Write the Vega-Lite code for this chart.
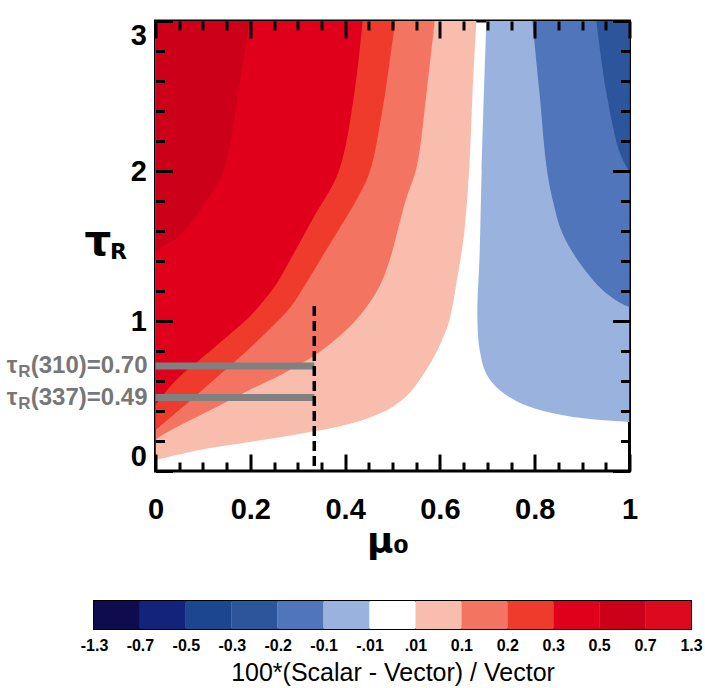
{
  "$schema": "https://vega.github.io/schema/vega-lite/v6.json",
  "padding": {"left": 5, "top": 18, "right": 0, "bottom": 0},
  "bounds": "flush",
  "center": true,
  "spacing": 130,
  "resolve": {"scale": {"x": "independent", "y": "independent"}},
  "config": {
    "view": {"stroke": "#000", "strokeWidth": 3},
    "axis": {"domain": false, "grid": false, "tickColor": "#000", "tickWidth": 3, "tickCap": "butt", "labelColor": "#000", "titleColor": "#000", "labelFont": "Liberation Sans", "labelFontWeight": "bold", "labelFontSize": 29, "labelFlush": false}
  },
  "datasets": {
    "bands": [
      {"level": "0.01 to 0.1", "tau": 0.073, "mu": 0},
      {"level": "0.01 to 0.1", "tau": 0.14, "mu": 0.093},
      {"level": "0.01 to 0.1", "tau": 0.193, "mu": 0.198},
      {"level": "0.01 to 0.1", "tau": 0.247, "mu": 0.304},
      {"level": "0.01 to 0.1", "tau": 0.313, "mu": 0.409},
      {"level": "0.01 to 0.1", "tau": 0.37, "mu": 0.463},
      {"level": "0.01 to 0.1", "tau": 0.427, "mu": 0.5},
      {"level": "0.01 to 0.1", "tau": 0.513, "mu": 0.534},
      {"level": "0.01 to 0.1", "tau": 0.673, "mu": 0.571},
      {"level": "0.01 to 0.1", "tau": 0.827, "mu": 0.598},
      {"level": "0.01 to 0.1", "tau": 0.993, "mu": 0.619},
      {"level": "0.01 to 0.1", "tau": 1.293, "mu": 0.637},
      {"level": "0.01 to 0.1", "tau": 1.58, "mu": 0.651},
      {"level": "0.01 to 0.1", "tau": 2.027, "mu": 0.662},
      {"level": "0.01 to 0.1", "tau": 2.527, "mu": 0.669},
      {"level": "0.01 to 0.1", "tau": 3.0, "mu": 0.677},

      {"level": "0.1 to 0.2", "tau": 0.207, "mu": 0},
      {"level": "0.1 to 0.2", "tau": 0.227, "mu": 0.008},
      {"level": "0.1 to 0.2", "tau": 0.313, "mu": 0.057},
      {"level": "0.1 to 0.2", "tau": 0.427, "mu": 0.129},
      {"level": "0.1 to 0.2", "tau": 0.54, "mu": 0.198},
      {"level": "0.1 to 0.2", "tau": 0.647, "mu": 0.268},
      {"level": "0.1 to 0.2", "tau": 0.78, "mu": 0.34},
      {"level": "0.1 to 0.2", "tau": 0.96, "mu": 0.409},
      {"level": "0.1 to 0.2", "tau": 1.093, "mu": 0.445},
      {"level": "0.1 to 0.2", "tau": 1.247, "mu": 0.475},
      {"level": "0.1 to 0.2", "tau": 1.427, "mu": 0.496},
      {"level": "0.1 to 0.2", "tau": 1.58, "mu": 0.509},
      {"level": "0.1 to 0.2", "tau": 1.807, "mu": 0.528},
      {"level": "0.1 to 0.2", "tau": 2.027, "mu": 0.551},
      {"level": "0.1 to 0.2", "tau": 2.527, "mu": 0.572},
      {"level": "0.1 to 0.2", "tau": 3.0, "mu": 0.589},

      {"level": "0.2 to 0.3", "tau": 0.273, "mu": 0},
      {"level": "0.2 to 0.3", "tau": 0.34, "mu": 0.025},
      {"level": "0.2 to 0.3", "tau": 0.46, "mu": 0.07},
      {"level": "0.2 to 0.3", "tau": 0.627, "mu": 0.13},
      {"level": "0.2 to 0.3", "tau": 0.793, "mu": 0.19},
      {"level": "0.2 to 0.3", "tau": 0.96, "mu": 0.245},
      {"level": "0.2 to 0.3", "tau": 1.093, "mu": 0.285},
      {"level": "0.2 to 0.3", "tau": 1.273, "mu": 0.322},
      {"level": "0.2 to 0.3", "tau": 1.447, "mu": 0.355},
      {"level": "0.2 to 0.3", "tau": 1.627, "mu": 0.39},
      {"level": "0.2 to 0.3", "tau": 1.807, "mu": 0.424},
      {"level": "0.2 to 0.3", "tau": 1.993, "mu": 0.452},
      {"level": "0.2 to 0.3", "tau": 2.393, "mu": 0.478},
      {"level": "0.2 to 0.3", "tau": 2.727, "mu": 0.494},
      {"level": "0.2 to 0.3", "tau": 3.0, "mu": 0.506},

      {"level": "0.3 to 0.5", "tau": 0.44, "mu": 0},
      {"level": "0.3 to 0.5", "tau": 0.473, "mu": 0.008},
      {"level": "0.3 to 0.5", "tau": 0.56, "mu": 0.03},
      {"level": "0.3 to 0.5", "tau": 0.647, "mu": 0.057},
      {"level": "0.3 to 0.5", "tau": 0.74, "mu": 0.093},
      {"level": "0.3 to 0.5", "tau": 0.893, "mu": 0.15},
      {"level": "0.3 to 0.5", "tau": 1.027, "mu": 0.198},
      {"level": "0.3 to 0.5", "tau": 1.093, "mu": 0.217},
      {"level": "0.3 to 0.5", "tau": 1.247, "mu": 0.255},
      {"level": "0.3 to 0.5", "tau": 1.447, "mu": 0.291},
      {"level": "0.3 to 0.5", "tau": 1.693, "mu": 0.334},
      {"level": "0.3 to 0.5", "tau": 1.993, "mu": 0.386},
      {"level": "0.3 to 0.5", "tau": 2.527, "mu": 0.42},
      {"level": "0.3 to 0.5", "tau": 3.0, "mu": 0.437},

      {"level": "0.5 to 0.7", "tau": 1.46, "mu": 0},
      {"level": "0.5 to 0.7", "tau": 1.493, "mu": 0.015},
      {"level": "0.5 to 0.7", "tau": 1.58, "mu": 0.055},
      {"level": "0.5 to 0.7", "tau": 1.807, "mu": 0.108},
      {"level": "0.5 to 0.7", "tau": 1.993, "mu": 0.143},
      {"level": "0.5 to 0.7", "tau": 2.527, "mu": 0.175},
      {"level": "0.5 to 0.7", "tau": 3.0, "mu": 0.198},

      {"level": "-0.1 to -0.01", "tau": 0.327, "mu": 1.0},
      {"level": "-0.1 to -0.01", "tau": 0.347, "mu": 0.916},
      {"level": "-0.1 to -0.01", "tau": 0.38, "mu": 0.846},
      {"level": "-0.1 to -0.01", "tau": 0.447, "mu": 0.774},
      {"level": "-0.1 to -0.01", "tau": 0.54, "mu": 0.726},
      {"level": "-0.1 to -0.01", "tau": 0.647, "mu": 0.698},
      {"level": "-0.1 to -0.01", "tau": 0.807, "mu": 0.684},
      {"level": "-0.1 to -0.01", "tau": 1.027, "mu": 0.679},
      {"level": "-0.1 to -0.01", "tau": 1.46, "mu": 0.684},
      {"level": "-0.1 to -0.01", "tau": 1.993, "mu": 0.688},
      {"level": "-0.1 to -0.01", "tau": 3.0, "mu": 0.698},

      {"level": "-0.2 to -0.1", "tau": 1.093, "mu": 1.0},
      {"level": "-0.2 to -0.1", "tau": 1.113, "mu": 0.985},
      {"level": "-0.2 to -0.1", "tau": 1.207, "mu": 0.943},
      {"level": "-0.2 to -0.1", "tau": 1.36, "mu": 0.901},
      {"level": "-0.2 to -0.1", "tau": 1.58, "mu": 0.859},
      {"level": "-0.2 to -0.1", "tau": 1.807, "mu": 0.838},
      {"level": "-0.2 to -0.1", "tau": 2.027, "mu": 0.825},
      {"level": "-0.2 to -0.1", "tau": 2.527, "mu": 0.81},
      {"level": "-0.2 to -0.1", "tau": 3.0, "mu": 0.795},

      {"level": "-0.3 to -0.2", "tau": 1.993, "mu": 1.0},
      {"level": "-0.3 to -0.2", "tau": 2.127, "mu": 0.979},
      {"level": "-0.3 to -0.2", "tau": 2.527, "mu": 0.951},
      {"level": "-0.3 to -0.2", "tau": 3.0, "mu": 0.93}
    ],
    "ann": [
      {"tau": 0.70, "mu": 0.335, "val": "(310)=0.70"},
      {"tau": 0.49, "mu": 0.335, "val": "(337)=0.49"}
    ],
    "dash": [{"mu": 0.335, "tau": 1.1}],
    "bins": [
      {"k": 0, "k1": 1, "level": "-1.3 to -0.7"},
      {"k": 1, "k1": 2, "level": "-0.7 to -0.5"},
      {"k": 2, "k1": 3, "level": "-0.5 to -0.3"},
      {"k": 3, "k1": 4, "level": "-0.3 to -0.2"},
      {"k": 4, "k1": 5, "level": "-0.2 to -0.1"},
      {"k": 5, "k1": 6, "level": "-0.1 to -0.01"},
      {"k": 6, "k1": 7, "level": "-0.01 to 0.01"},
      {"k": 7, "k1": 8, "level": "0.01 to 0.1"},
      {"k": 8, "k1": 9, "level": "0.1 to 0.2"},
      {"k": 9, "k1": 10, "level": "0.2 to 0.3"},
      {"k": 10, "k1": 11, "level": "0.3 to 0.5"},
      {"k": 11, "k1": 12, "level": "0.5 to 0.7"},
      {"k": 12, "k1": 13, "level": "0.7 to 1.3"}
    ]
  },
  "vconcat": [
    {
      "width": 474,
      "height": 450,
      "resolve": {"axis": {"x": "independent", "y": "independent"}},
      "layer": [
        {
          "data": {"name": "bands"},
          "transform": [{"filter": "datum.level == '0.01 to 0.1'"}],
          "mark": {"type": "area", "orient": "horizontal", "interpolate": "catmull-rom", "clip": true},
          "encoding": {
            "y": {"field": "tau", "type": "quantitative", "scale": {"domain": [0, 3], "nice": false, "zero": false},
              "axis": {"orient": "left", "zindex": 1, "values": [0, 1, 2, 3], "format": "d", "ticks": false, "labelPadding": 9, "labelFlush": true, "title": "τ", "titleAngle": 0, "titleX": -58, "titleY": 233, "titleAlign": "center", "titleBaseline": "alphabetic", "titleFont": "DejaVu Sans", "titleFontWeight": "bold", "titleFontSize": 42}},
            "x": {"field": "mu", "type": "quantitative", "stack": null, "scale": {"domain": [0, 1], "nice": false, "zero": false},
              "axis": {"orient": "bottom", "zindex": 1, "values": [0, 0.2, 0.4, 0.6, 0.8, 1], "format": "~g", "ticks": false, "labelPadding": 24, "title": "μ₀", "titleX": 232, "titleY": 81, "titleAlign": "center", "titleBaseline": "alphabetic", "titleFont": "DejaVu Sans", "titleFontWeight": "bold", "titleFontSize": 36}},
            "x2": {"datum": 0},
            "color": {"field": "level", "type": "nominal", "legend": null,
              "scale": {"domain": ["-1.3 to -0.7", "-0.7 to -0.5", "-0.5 to -0.3", "-0.3 to -0.2", "-0.2 to -0.1", "-0.1 to -0.01", "-0.01 to 0.01", "0.01 to 0.1", "0.1 to 0.2", "0.2 to 0.3", "0.3 to 0.5", "0.5 to 0.7", "0.7 to 1.3"],
                "range": ["#0e0c4e", "#13237c", "#1d4690", "#2d559b", "#5075ba", "#9ab3de", "#ffffff", "#f8bdad", "#f47462", "#ee3b2b", "#e1001b", "#cc0019", "#db0a1e"]}}
          }
        },
        {
          "data": {"name": "bands"},
          "transform": [{"filter": "datum.level == '0.1 to 0.2'"}],
          "mark": {"type": "area", "orient": "horizontal", "interpolate": "catmull-rom", "clip": true},
          "encoding": {
            "y": {"field": "tau", "type": "quantitative", "scale": {"domain": [0, 3], "nice": false, "zero": false},
              "axis": {"orient": "left", "zindex": 2, "values": [0, 1, 2, 3], "tickSize": -17, "labels": false, "title": null}},
            "x": {"field": "mu", "type": "quantitative", "stack": null, "scale": {"domain": [0, 1], "nice": false, "zero": false},
              "axis": {"orient": "bottom", "zindex": 2, "values": [0, 0.2, 0.4, 0.6, 0.8, 1], "tickSize": -17, "labels": false, "title": null}},
            "x2": {"datum": 0},
            "color": {"field": "level", "type": "nominal", "legend": null}
          }
        },
        {
          "data": {"name": "bands"},
          "transform": [{"filter": "datum.level == '0.2 to 0.3'"}],
          "mark": {"type": "area", "orient": "horizontal", "interpolate": "catmull-rom", "clip": true},
          "encoding": {
            "y": {"field": "tau", "type": "quantitative", "scale": {"domain": [0, 3], "nice": false, "zero": false},
              "axis": {"orient": "left", "zindex": 2, "values": [0.2, 0.4, 0.6, 0.8, 1.2, 1.4, 1.6, 1.8, 2.2, 2.4, 2.6, 2.8], "tickSize": -9, "labels": false, "title": null}},
            "x": {"field": "mu", "type": "quantitative", "stack": null, "scale": {"domain": [0, 1], "nice": false, "zero": false},
              "axis": {"orient": "bottom", "zindex": 2, "values": [0.05, 0.1, 0.15, 0.25, 0.3, 0.35, 0.45, 0.5, 0.55, 0.65, 0.7, 0.75, 0.85, 0.9, 0.95], "tickSize": -9, "labels": false, "title": null}},
            "x2": {"datum": 0},
            "color": {"field": "level", "type": "nominal", "legend": null}
          }
        },
        {
          "data": {"name": "bands"},
          "transform": [{"filter": "datum.level == '0.3 to 0.5'"}],
          "mark": {"type": "area", "orient": "horizontal", "interpolate": "catmull-rom", "clip": true},
          "encoding": {
            "y": {"field": "tau", "type": "quantitative", "scale": {"domain": [0, 3], "nice": false, "zero": false},
              "axis": {"orient": "right", "zindex": 2, "values": [0, 1, 2, 3], "tickSize": -17, "labels": false, "title": null}},
            "x": {"field": "mu", "type": "quantitative", "stack": null, "scale": {"domain": [0, 1], "nice": false, "zero": false},
              "axis": {"orient": "top", "zindex": 2, "values": [0, 0.2, 0.4, 0.6, 0.8, 1], "tickSize": -17, "labels": false, "title": null}},
            "x2": {"datum": 0},
            "color": {"field": "level", "type": "nominal", "legend": null}
          }
        },
        {
          "data": {"name": "bands"},
          "transform": [{"filter": "datum.level == '0.5 to 0.7'"}],
          "mark": {"type": "area", "orient": "horizontal", "interpolate": "catmull-rom", "clip": true},
          "encoding": {
            "y": {"field": "tau", "type": "quantitative", "scale": {"domain": [0, 3], "nice": false, "zero": false},
              "axis": {"orient": "right", "zindex": 2, "values": [0.2, 0.4, 0.6, 0.8, 1.2, 1.4, 1.6, 1.8, 2.2, 2.4, 2.6, 2.8], "tickSize": -9, "labels": false, "title": null}},
            "x": {"field": "mu", "type": "quantitative", "stack": null, "scale": {"domain": [0, 1], "nice": false, "zero": false},
              "axis": {"orient": "top", "zindex": 2, "values": [0.05, 0.1, 0.15, 0.25, 0.3, 0.35, 0.45, 0.5, 0.55, 0.65, 0.7, 0.75, 0.85, 0.9, 0.95], "tickSize": -9, "labels": false, "title": null}},
            "x2": {"datum": 0},
            "color": {"field": "level", "type": "nominal", "legend": null}
          }
        },
        {
          "data": {"name": "bands"},
          "transform": [{"filter": "datum.level == '-0.1 to -0.01'"}],
          "mark": {"type": "area", "orient": "horizontal", "interpolate": "catmull-rom", "clip": true},
          "encoding": {
            "y": {"field": "tau", "type": "quantitative", "scale": {"domain": [0, 3], "nice": false, "zero": false}, "axis": null},
            "x": {"field": "mu", "type": "quantitative", "stack": null, "scale": {"domain": [0, 1], "nice": false, "zero": false}, "axis": null},
            "x2": {"datum": 1},
            "color": {"field": "level", "type": "nominal", "legend": null}
          }
        },
        {
          "data": {"name": "bands"},
          "transform": [{"filter": "datum.level == '-0.2 to -0.1'"}],
          "mark": {"type": "area", "orient": "horizontal", "interpolate": "catmull-rom", "clip": true},
          "encoding": {
            "y": {"field": "tau", "type": "quantitative", "scale": {"domain": [0, 3], "nice": false, "zero": false}, "axis": null},
            "x": {"field": "mu", "type": "quantitative", "stack": null, "scale": {"domain": [0, 1], "nice": false, "zero": false}, "axis": null},
            "x2": {"datum": 1},
            "color": {"field": "level", "type": "nominal", "legend": null}
          }
        },
        {
          "data": {"name": "bands"},
          "transform": [{"filter": "datum.level == '-0.3 to -0.2'"}],
          "mark": {"type": "area", "orient": "horizontal", "interpolate": "catmull-rom", "clip": true},
          "encoding": {
            "y": {"field": "tau", "type": "quantitative", "scale": {"domain": [0, 3], "nice": false, "zero": false}, "axis": null},
            "x": {"field": "mu", "type": "quantitative", "stack": null, "scale": {"domain": [0, 1], "nice": false, "zero": false}, "axis": null},
            "x2": {"datum": 1},
            "color": {"field": "level", "type": "nominal", "legend": null}
          }
        },
        {
          "data": {"name": "ann"},
          "mark": {"type": "rule", "color": "#808080", "strokeWidth": 7, "strokeCap": "butt"},
          "encoding": {
            "y": {"field": "tau", "type": "quantitative", "scale": {"domain": [0, 3], "nice": false, "zero": false}, "axis": null},
            "x": {"field": "mu", "type": "quantitative", "scale": {"domain": [0, 1], "nice": false, "zero": false}, "axis": null},
            "x2": {"datum": 0}
          }
        },
        {
          "data": {"name": "dash"},
          "mark": {"type": "rule", "color": "#000", "strokeWidth": 3.5, "strokeDash": [10, 5], "strokeCap": "butt"},
          "encoding": {
            "x": {"field": "mu", "type": "quantitative", "scale": {"domain": [0, 1], "nice": false, "zero": false}, "axis": null},
            "y": {"field": "tau", "type": "quantitative", "scale": {"domain": [0, 3], "nice": false, "zero": false}, "axis": null},
            "y2": {"datum": 0}
          }
        },
        {
          "data": {"name": "ann"},
          "mark": {"type": "text", "align": "right", "baseline": "middle", "dx": -8, "font": "Liberation Sans", "fontWeight": "bold", "fontSize": 24, "color": "#777777"},
          "encoding": {
            "y": {"field": "tau", "type": "quantitative", "scale": {"domain": [0, 3], "nice": false, "zero": false}, "axis": null},
            "x": {"datum": 0, "type": "quantitative", "scale": {"domain": [0, 1], "nice": false, "zero": false}, "axis": null},
            "text": {"field": "val"}
          }
        },
        {
          "data": {"name": "ann"},
          "mark": {"type": "text", "text": "R", "align": "right", "baseline": "middle", "dx": -125, "dy": 6, "font": "Liberation Sans", "fontWeight": "bold", "fontSize": 17, "color": "#777777"},
          "encoding": {
            "y": {"field": "tau", "type": "quantitative", "scale": {"domain": [0, 3], "nice": false, "zero": false}, "axis": null},
            "x": {"datum": 0, "type": "quantitative", "scale": {"domain": [0, 1], "nice": false, "zero": false}, "axis": null}
          }
        },
        {
          "data": {"name": "ann"},
          "mark": {"type": "text", "text": "τ", "align": "right", "baseline": "middle", "dx": -138, "font": "Liberation Sans", "fontWeight": "bold", "fontSize": 24, "color": "#777777"},
          "encoding": {
            "y": {"field": "tau", "type": "quantitative", "scale": {"domain": [0, 3], "nice": false, "zero": false}, "axis": null},
            "x": {"datum": 0, "type": "quantitative", "scale": {"domain": [0, 1], "nice": false, "zero": false}, "axis": null}
          }
        },
        {
          "data": {"values": [{"label": "R"}]},
          "mark": {"type": "text", "align": "center", "baseline": "alphabetic", "font": "DejaVu Sans", "fontWeight": "bold", "fontSize": 22, "color": "#000"},
          "encoding": {
            "y": {"datum": 1.413, "type": "quantitative", "scale": {"domain": [0, 3], "nice": false, "zero": false}, "axis": null},
            "x": {"datum": -0.078, "type": "quantitative", "scale": {"domain": [0, 1], "nice": false, "zero": false}, "axis": null},
            "text": {"field": "label"}
          }
        }
      ]
    },
    {
      "width": 597,
      "height": 28,
      "view": {"stroke": "#000", "strokeWidth": 2},
      "data": {"name": "bins"},
      "mark": {"type": "rect"},
      "encoding": {
        "x": {"field": "k", "type": "quantitative", "scale": {"domain": [0, 13], "nice": false, "zero": false},
          "axis": {"values": [0, 1, 2, 3, 4, 5, 6, 7, 8, 9, 10, 11, 12, 13], "ticks": false, "labelPadding": 8, "labelFlush": false, "labelFontSize": 16, "labelFont": "Liberation Sans", "labelFontWeight": "bold",
            "labelExpr": "['-1.3','-0.7','-0.5','-0.3','-0.2','-0.1','-.01','.01','0.1','0.2','0.3','0.5','0.7','1.3'][datum.value]",
            "title": "100*(Scalar - Vector) / Vector", "titleFont": "Liberation Sans", "titleFontWeight": "normal", "titleFontSize": 25, "titlePadding": 7}},
        "x2": {"field": "k1"},
        "color": {"field": "level", "type": "nominal", "legend": null,
          "scale": {"domain": ["-1.3 to -0.7", "-0.7 to -0.5", "-0.5 to -0.3", "-0.3 to -0.2", "-0.2 to -0.1", "-0.1 to -0.01", "-0.01 to 0.01", "0.01 to 0.1", "0.1 to 0.2", "0.2 to 0.3", "0.3 to 0.5", "0.5 to 0.7", "0.7 to 1.3"],
            "range": ["#0e0c4e", "#13237c", "#1d4690", "#2d559b", "#5075ba", "#9ab3de", "#ffffff", "#f8bdad", "#f47462", "#ee3b2b", "#e1001b", "#cc0019", "#db0a1e"]}}
      }
    }
  ]
}
